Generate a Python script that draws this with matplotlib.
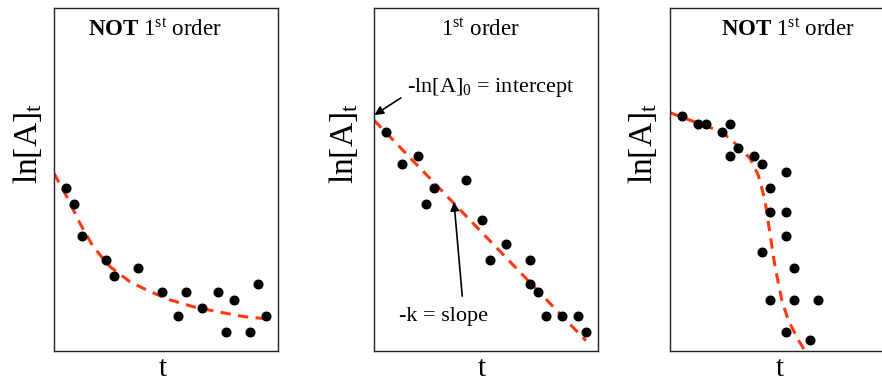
import matplotlib
matplotlib.use("Agg")
import matplotlib.pyplot as plt

plt.rcParams['font.family'] = ['Liberation Serif', 'DejaVu Serif']
plt.rcParams['mathtext.fontset'] = 'custom'
plt.rcParams['mathtext.rm'] = 'Liberation Serif'
plt.rcParams['mathtext.it'] = 'Liberation Serif:italic'
plt.rcParams['mathtext.bf'] = 'Liberation Serif:bold'

# ---- data (arbitrary units) ----
p1_x = [0.54, 0.89, 1.24, 2.32, 2.68, 3.75, 4.82, 5.54, 5.89, 6.61, 7.32, 7.68, 8.04, 8.75, 9.11, 9.46]
p1_y = [4.74, 4.29, 3.35, 2.64, 2.18, 2.42, 1.71, 1.02, 1.71, 1.25, 1.71, 0.55, 1.48, 0.55, 1.95, 1.02]
p1_fit_x = [0.0, 0.57, 1.16, 1.75, 2.5, 3.39, 4.29, 5.18, 6.22, 7.26, 8.5, 9.79]
p1_fit_y = [5.18, 4.50, 3.72, 3.04, 2.46, 2.02, 1.73, 1.49, 1.29, 1.15, 1.00, 0.92]

p2_x = [0.54, 1.25, 1.96, 2.32, 2.68, 4.11, 4.82, 5.18, 5.89, 6.96, 6.96, 7.32, 7.68, 8.39, 9.11, 9.46]
p2_y = [6.38, 5.45, 5.69, 4.29, 4.74, 4.99, 3.82, 2.65, 3.12, 2.65, 1.95, 1.71, 1.02, 1.02, 1.02, 0.55]
p2_fit_x = [0.0, 9.46]
p2_fit_y = [6.73, 0.30]

p3_x = [0.54, 1.25, 1.61, 2.32, 2.68, 3.04, 2.68, 3.75, 4.11, 5.18, 4.46, 4.46, 5.18, 5.18, 4.11,
        5.54, 4.46, 5.54, 6.61, 5.18, 6.25]
p3_y = [6.84, 6.61, 6.61, 6.38, 6.61, 5.91, 5.68, 5.68, 5.44, 5.21, 4.74, 4.04, 4.04, 3.34, 2.88,
        2.41, 1.48, 1.48, 1.48, 0.55, 0.31]
p3_fit_x = [0.0, 1.26, 2.31, 2.98, 3.57, 3.94, 4.24, 4.46, 4.69, 4.99, 5.28, 5.73, 6.03]
p3_fit_y = [6.95, 6.64, 6.39, 6.01, 5.62, 5.13, 4.40, 3.43, 2.46, 1.49, 0.90, 0.32, 0.0]

titles = [r"$\mathbf{NOT}$ $1^{\mathrm{st}}$ order", r"$1^{\mathrm{st}}$ order",
          r"$\mathbf{NOT}$ $1^{\mathrm{st}}$ order"]
ylabel = r"$\mathrm{ln[A]}_{\mathrm{t}}$"
xlabel = "t"
intercept_label = r"-$\mathrm{ln[A]}_{0}$ = intercept"
slope_label = "-k = slope"

W, H = 882, 381
fig = plt.figure(figsize=(W / 100, H / 100), dpi=100)

lefts = [54, 374, 670]
title_x = [0.45, 0.473, 0.527]
ylab_x = [-0.118, -0.134, -0.123]
xlab_x = [0.487, 0.48, 0.49]
data = [(p1_x, p1_y, p1_fit_x, p1_fit_y),
        (p2_x, p2_y, p2_fit_x, p2_fit_y),
        (p3_x, p3_y, p3_fit_x, p3_fit_y)]

axes = []
for i, left in enumerate(lefts):
    ax = fig.add_axes([left / W, (H - 351) / H, 224 / W, 343 / H])
    ax.set_xlim(0, 10)
    ax.set_ylim(0, 10)
    ax.set_xticks([])
    ax.set_yticks([])
    for s in ax.spines.values():
        s.set_color('#222222')
        s.set_linewidth(1.0)
    px, py, fx, fy = data[i]
    ax.plot(fx, fy, color='#FF3A10', lw=2.2, dashes=(3.4, 2.4), zorder=2,
            solid_capstyle='butt', dash_capstyle='butt', clip_on=True)
    ax.plot(px, py, 'o', color='black', ms=6.2, zorder=3, clip_on=False)
    ax.text(title_x[i], 0.934, titles[i], transform=ax.transAxes, ha='center', va='center',
            fontsize=16.5)
    ax.text(ylab_x[i], 0.605, ylabel, transform=ax.transAxes, ha='center', va='center',
            rotation=90, fontsize=24)
    ax.text(xlab_x[i], -0.074, xlabel, transform=ax.transAxes, ha='center', va='baseline',
            fontsize=21)
    axes.append(ax)

ax2 = axes[1]
arrow_kw = dict(arrowstyle='-|>', color='black', lw=1.2, mutation_scale=13,
                shrinkA=0, shrinkB=0)
ax2.text(1.47, 7.67, intercept_label, ha='left', va='center', fontsize=16)
ax2.annotate('', xy=(0.02, 6.88), xytext=(1.2, 7.38), arrowprops=arrow_kw)
ax2.text(1.12, 1.0, slope_label, ha='left', va='center', fontsize=16)
ax2.annotate('', xy=(3.57, 4.35), xytext=(3.94, 1.60), arrowprops=arrow_kw)

fig.savefig('out.png', dpi=100)
